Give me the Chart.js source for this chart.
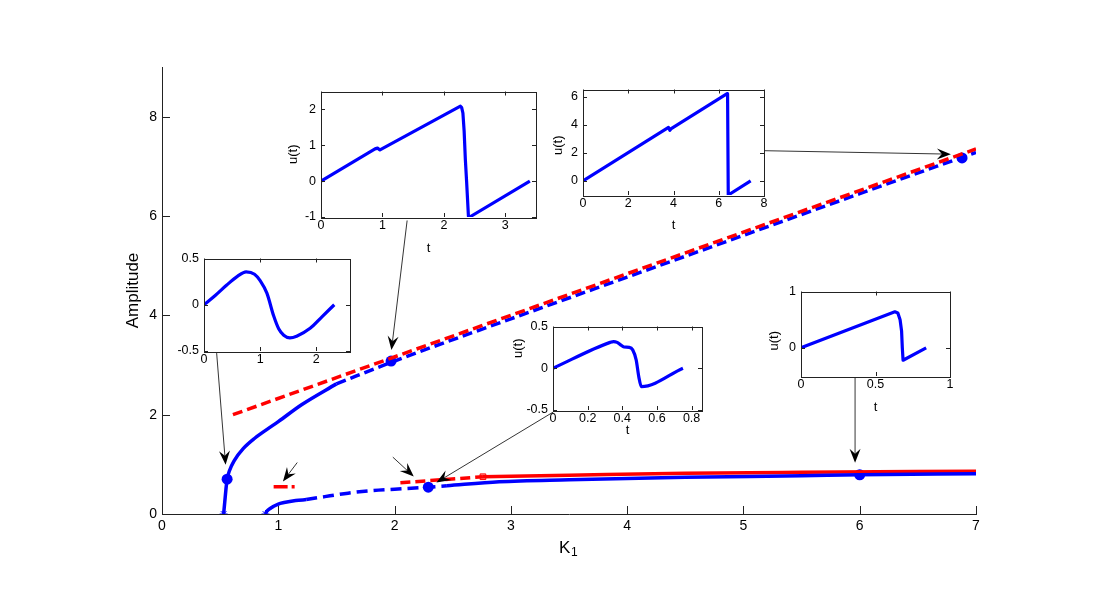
<!DOCTYPE html>
<html>
<head>
<meta charset="utf-8">
<script src="https://cdn.jsdelivr.net/npm/chart.js@4.4.1/dist/chart.umd.min.js"></script>
<style>
  body { margin: 0; background: #fff; }
  #wrap { position: relative; width: 1100px; height: 600px; }
  canvas { position: absolute; }
</style>
</head>
<body>
<div id="wrap"><canvas id="main" width="1100" height="600" style="left:0;top:0"></canvas></div>
<script>
// main axes
const xTicks = [0, 1, 2, 3, 4, 5, 6, 7];
const yTicks = [0, 2, 4, 6, 8];

// upper branch (blue), solid then dashed
const upSolidK = [0.53, 0.54, 0.55, 0.56, 0.58, 0.62, 0.7, 0.8, 0.9, 1.0, 1.2, 1.5];
const upSolidA = [0, 0.25, 0.5, 0.7, 0.87, 1.07, 1.32, 1.53, 1.7, 1.86, 2.2, 2.62];
const upDashK = [1.5, 2, 3, 4, 5, 6, 7];
const upDashA = [2.62, 3.08, 3.93, 4.77, 5.61, 6.45, 7.28];
// upper approximation (red dashed)
const redUpK = [0.61, 7];
const redUpA = [2.0, 7.35];

// lower branch (blue): solid, dashed, solid
const lowSolid1K = [0.89, 0.9, 0.93, 1.0, 1.05, 1.15, 1.24];
const lowSolid1A = [0, 0.05, 0.11, 0.2, 0.23, 0.27, 0.29];
const lowDashK = [1.24, 1.4, 1.6, 1.8, 2.0, 2.29, 2.45];
const lowDashA = [0.29, 0.35, 0.42, 0.47, 0.5, 0.54, 0.57];
const lowSolid2K = [2.45, 2.9, 3.5, 4.5, 5.5, 6, 7];
const lowSolid2A = [0.57, 0.65, 0.69, 0.74, 0.77, 0.79, 0.81];
// lower approximation (red)
const redLowDashK = [2.05, 2.76];
const redLowDashA = [0.63, 0.75];
const redLowK = [2.76, 3.5, 4.5, 5.5, 7];
const redLowA = [0.75, 0.78, 0.82, 0.84, 0.86];
const redDotDashK = [0.96, 1.15];
const redDotDashA = [0.55, 0.55];

// markers
const dotK = [0.56, 1.97, 2.29, 6.0, 6.88];
const dotA = [0.70, 3.08, 0.54, 0.79, 7.17];
const starK = [0.53, 0.89];
const starA = [0, 0];
const squareK = [2.76];
const squareA = [0.75];

// arrows [fromK, fromA, toK, toA]
const arrows = [
  [0.47, 3.24, 0.547, 0.99],
  [2.108, 5.91, 1.973, 3.30],
  [5.178, 7.315, 6.784, 7.245],
  [1.163, 1.036, 1.040, 0.655],
  [1.985, 1.145, 2.165, 0.755],
  [3.365, 2.054, 2.360, 0.635],
  [5.960, 2.739, 5.960, 1.030]
];

// inset time series
const in1T = [0, 0.2, 0.4, 0.6, 0.75, 0.9, 1.0, 1.12, 1.24, 1.33, 1.42, 1.53, 1.65, 1.89, 2.1, 2.32];
const in1U = [0, 0.1, 0.21, 0.31, 0.355, 0.33, 0.26, 0.125, -0.12, -0.26, -0.33, -0.358, -0.34, -0.255, -0.13, 0];
const in2T = [0, 0.88, 0.92, 0.96, 2.27, 2.29, 2.31, 2.33, 2.35, 2.37, 2.40, 2.42, 3.4];
const in2U = [0, 0.9, 0.92, 0.87, 2.09, 2.05, 1.9, 1.4, 0.6, 0, -0.98, -1.0, 0];
const in3T = [0, 3.78, 3.84, 3.9, 6.37, 6.39, 6.42, 7.41];
const in3U = [0, 3.8, 3.6, 3.72, 6.2, 6.15, -1.0, 0];
const in5T = [0, 0.33, 0.35, 0.37, 0.39, 0.41, 0.44, 0.46, 0.48, 0.495, 0.51, 0.75];
const in5U = [0, 0.31, 0.32, 0.31, 0.28, 0.255, 0.25, 0.22, 0.1, -0.1, -0.22, 0];
const in6T = [0, 0.63, 0.65, 0.665, 0.675, 0.68, 0.685, 0.84];
const in6U = [0, 0.64, 0.62, 0.5, 0.3, 0, -0.22, 0];

const BLUE = '#0000ff';
const RED = '#ff0000';
const AXIS = '#222';
const FONT = '"Liberation Sans", Arial, sans-serif';

function pts(xs, ys) {
  return xs.map((x, i) => ({ x: x, y: ys[i] }));
}

function lineSet(xs, ys, color, dash, smooth) {
  const ds = {
    data: pts(xs, ys), borderColor: color, borderWidth: 3.5, borderDash: dash || [],
    pointRadius: 0, tension: 0, fill: false, borderCapStyle: 'butt', borderJoinStyle: 'round'
  };
  if (smooth) ds.cubicInterpolationMode = 'monotone';
  return ds;
}

// inward tick marks, optional full box and white plot area
const inTicks = {
  id: 'inTicks',
  beforeDraw(chart, args, opts) {
    if (!opts.white) return;
    const a = chart.chartArea, c = chart.ctx;
    c.save();
    c.fillStyle = '#fff';
    c.fillRect(a.left, a.top, a.right - a.left, a.bottom - a.top);
    c.restore();
  },
  afterDraw(chart, args, opts) {
    const a = chart.chartArea, c = chart.ctx;
    const sx = chart.scales.x, sy = chart.scales.y;
    const L = opts.len || 5;
    c.save();
    c.strokeStyle = AXIS;
    c.lineWidth = 1;
    c.beginPath();
    sx.ticks.forEach(t => {
      const x = Math.round(sx.getPixelForValue(t.value)) + 0.5;
      c.moveTo(x, a.bottom); c.lineTo(x, a.bottom - L);
      if (opts.mirror) { c.moveTo(x, a.top); c.lineTo(x, a.top + L); }
    });
    sy.ticks.forEach(t => {
      const y = Math.round(sy.getPixelForValue(t.value)) + 0.5;
      c.moveTo(a.left, y); c.lineTo(a.left + L, y);
      if (opts.mirror) { c.moveTo(a.right, y); c.lineTo(a.right - L, y); }
    });
    c.stroke();
    if (opts.box) {
      c.strokeRect(Math.round(a.left) + 0.5, Math.round(a.top) + 0.5,
        Math.round(a.right - a.left), Math.round(a.bottom - a.top));
    }
    c.restore();
  }
};

// axis titles for the insets
const insetLabels = {
  id: 'insetLabels',
  afterDraw(chart, args, opts) {
    if (!opts.show) return;
    const a = chart.chartArea, c = chart.ctx;
    c.save();
    c.fillStyle = '#000';
    c.font = '13px ' + FONT;
    c.textAlign = 'center';
    c.textBaseline = 'middle';
    c.fillText('t', (a.left + a.right) / 2, a.bottom + opts.xOff);
    c.translate(a.left - opts.yOff, (a.top + a.bottom) / 2 + (opts.yDy || 0));
    c.rotate(-Math.PI / 2);
    c.fillText('u(t)', 0, 0);
    c.restore();
  }
};

// main titles and arrows
const mainExtras = {
  id: 'mainExtras',
  afterDraw(chart) {
    const a = chart.chartArea, c = chart.ctx;
    const sx = chart.scales.x, sy = chart.scales.y;
    c.save();
    // arrows
    arrows.forEach(ar => {
      const x0 = sx.getPixelForValue(ar[0]), y0 = sy.getPixelForValue(ar[1]);
      const x1 = sx.getPixelForValue(ar[2]), y1 = sy.getPixelForValue(ar[3]);
      const d = Math.hypot(x1 - x0, y1 - y0);
      const ux = (x1 - x0) / d, uy = (y1 - y0) / d;
      const px = -uy, py = ux;
      const Lh = 14, W = 5.5, N = 9;
      c.strokeStyle = '#000';
      c.lineWidth = 0.8;
      c.beginPath();
      c.moveTo(x0, y0);
      c.lineTo(x1 - ux * N, y1 - uy * N);
      c.stroke();
      c.fillStyle = '#000';
      c.beginPath();
      c.moveTo(x1, y1);
      c.lineTo(x1 - ux * Lh + px * W, y1 - uy * Lh + py * W);
      c.lineTo(x1 - ux * N, y1 - uy * N);
      c.lineTo(x1 - ux * Lh - px * W, y1 - uy * Lh - py * W);
      c.closePath();
      c.fill();
    });
    // axis titles
    c.fillStyle = '#000';
    c.textBaseline = 'middle';
    c.textAlign = 'center';
    c.font = '17px ' + FONT;
    c.save();
    c.translate(a.left - 29, (a.top + a.bottom) / 2);
    c.rotate(-Math.PI / 2);
    c.fillText('Amplitude', 0, 0);
    c.restore();
    const kx = (a.left + a.right) / 2 - 4, ky = a.bottom + 34;
    c.textAlign = 'left';
    c.fillText('K', kx - 6, ky);
    c.font = '12px ' + FONT;
    c.fillText('1', kx + 6, ky + 5);
    c.restore();
  }
};

new Chart(document.getElementById('main'), {
  type: 'line',
  data: {
    datasets: [
      lineSet(redUpK, redUpA, RED, [10, 5]),
      lineSet(upSolidK, upSolidA, BLUE, null, true),
      lineSet(upDashK, upDashA, BLUE, [10, 5], true),
      lineSet(lowSolid1K, lowSolid1A, BLUE, null, true),
      lineSet(lowDashK, lowDashA, BLUE, [11, 6], true),
      lineSet(lowSolid2K, lowSolid2A, BLUE, null, true),
      lineSet(redLowDashK, redLowDashA, RED, [10, 5]),
      lineSet(redLowK, redLowA, RED, null, true),
      lineSet(redDotDashK, redDotDashA, RED, [14, 4, 3, 4]),
      { data: pts(dotK, dotA), showLine: false, pointRadius: 5.5, pointBackgroundColor: BLUE, pointBorderColor: BLUE, pointBorderWidth: 0 },
      { data: pts(starK, starA), showLine: false, pointStyle: 'star', pointRadius: 4, pointBorderColor: BLUE, pointBorderWidth: 1 },
      { data: pts(squareK, squareA), showLine: false, pointStyle: 'rect', pointRadius: 4, pointBackgroundColor: '#ff9a9a', pointBorderColor: RED, pointBorderWidth: 1 }
    ]
  },
  options: {
    responsive: false,
    animation: false,
    layout: { padding: { left: 122, top: 67, right: 124, bottom: 56 } },
    plugins: { legend: { display: false }, tooltip: { enabled: false }, inTicks: { len: 8 } },
    scales: {
      x: {
        type: 'linear', min: 0, max: 7,
        afterBuildTicks: s => { s.ticks = xTicks.map(v => ({ value: v })); },
        afterFit: s => { s.height = 30; },
        grid: { display: false, drawTicks: false },
        border: { display: true, color: AXIS, width: 1 },
        ticks: { color: '#000', font: { family: FONT, size: 14 }, padding: 4, maxRotation: 0, autoSkip: false, callback: v => String(v) }
      },
      y: {
        type: 'linear', min: 0, max: 9,
        afterBuildTicks: s => { s.ticks = yTicks.map(v => ({ value: v })); },
        afterFit: s => { s.width = 40; },
        grid: { display: false, drawTicks: false },
        border: { display: true, color: AXIS, width: 1 },
        ticks: { color: '#000', font: { family: FONT, size: 14 }, padding: 5, callback: v => String(v) }
      }
    }
  },
  plugins: [inTicks, mainExtras]
});

const wrap = document.getElementById('wrap');

function makeInset(box, t, u, xr, yr, xt, yt, lab, smooth) {
  const padL = 48, padT = 8, padR = 12, padB = 44;
  const w = box[2] - box[0], h = box[3] - box[1];
  const cv = document.createElement('canvas');
  cv.width = w + padL + padR;
  cv.height = h + padT + padB;
  cv.style.left = (box[0] - padL) + 'px';
  cv.style.top = (box[1] - padT) + 'px';
  wrap.appendChild(cv);
  const ds = lineSet(t, u, BLUE, null, smooth);
  ds.borderWidth = 3.2;
  new Chart(cv, {
    type: 'line',
    data: { datasets: [ds] },
    options: {
      responsive: false,
      animation: false,
      layout: { padding: { left: 0, top: padT, right: padR, bottom: 0 } },
      plugins: {
        legend: { display: false }, tooltip: { enabled: false },
        inTicks: { len: 4, mirror: true, box: true, white: true },
        insetLabels: lab || { show: false }
      },
      scales: {
        x: {
          type: 'linear', min: xr[0], max: xr[1],
          afterBuildTicks: s => { s.ticks = xt.map(v => ({ value: v })); },
          afterFit: s => { s.height = padB; },
          grid: { display: false, drawTicks: false },
          border: { display: false },
          ticks: { color: '#000', font: { family: FONT, size: 12.5 }, padding: 1, maxRotation: 0, autoSkip: false, callback: v => String(v) }
        },
        y: {
          type: 'linear', min: yr[0], max: yr[1],
          afterBuildTicks: s => { s.ticks = yt.map(v => ({ value: v })); },
          afterFit: s => { s.width = padL; },
          grid: { display: false, drawTicks: false },
          border: { display: false },
          ticks: { color: '#000', font: { family: FONT, size: 12.5 }, padding: 5, callback: v => String(v) }
        }
      }
    },
    plugins: [inTicks, insetLabels]
  });
}

makeInset([204, 254, 350, 351], in1T, in1U, [0, 2.6], [-0.5, 0.5], [0, 1, 2], [-0.5, 0, 0.5], null, true);
makeInset([321, 87, 536, 217], in2T, in2U, [0, 3.5], [-1, 2.5], [0, 1, 2, 3], [-1, 0, 1, 2],
  { show: true, xOff: 31, yOff: 28 });
makeInset([583, 85, 764, 195], in3T, in3U, [0, 8], [-1, 6.5], [0, 2, 4, 6, 8], [0, 2, 4, 6],
  { show: true, xOff: 30, yOff: 25, yDy: 3 });
makeInset([553, 322, 702, 410], in5T, in5U, [0, 0.86], [-0.5, 0.5], [0, 0.2, 0.4, 0.6, 0.8], [-0.5, 0, 0.5],
  { show: true, xOff: 20, yOff: 35, yDy: -20 }, true);
makeInset([801, 287, 950, 376], in6T, in6U, [0, 1], [-0.5, 1], [0, 0.5, 1], [0, 1],
  { show: true, xOff: 31, yOff: 27, yDy: 7 });
</script>
</body>
</html>
